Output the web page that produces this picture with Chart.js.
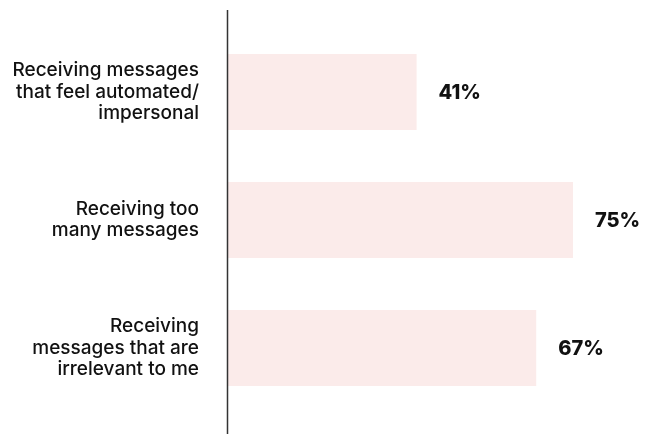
<!DOCTYPE html>
<html><head><meta charset="utf-8">
<script src="https://cdn.jsdelivr.net/npm/chart.js@4"></script>
<style>html,body{margin:0;padding:0;background:#fff}#wrap{width:647px;height:434px}</style>
</head><body><div id="wrap"><canvas id="c" width="647" height="434"></canvas></div>
<script>
const categories = [
  ["Receiving messages", "that feel automated/", "impersonal"],
  ["Receiving too", "many messages"],
  ["Receiving", "messages that are", "irrelevant to me"]
];
const values = [41, 75, 67];
const valueLabels = ["41%", "75%", "67%"];

const axisLine = {
  id: 'axisLine',
  afterDatasetsDraw(chart) {
    const ctx = chart.ctx, a = chart.chartArea;
    ctx.save();
    ctx.strokeStyle = '#333';
    ctx.lineWidth = 1.5;
    ctx.beginPath();
    ctx.moveTo(a.left - 0.5, 10);
    ctx.lineTo(a.left - 0.5, 434);
    ctx.stroke();
    ctx.restore();
  }
};
const valueLabelPlugin = {
  id: 'valueLabels',
  afterDatasetsDraw(chart) {
    const ctx = chart.ctx;
    const meta = chart.getDatasetMeta(0);
    ctx.save();
    ctx.font = '800 20px Inter, "Open Sans", sans-serif';
    ctx.fillStyle = '#111';
    ctx.textAlign = 'left';
    ctx.textBaseline = 'middle';
    meta.data.forEach((bar, i) => {
      ctx.fillText(valueLabels[i], bar.x + 22, bar.y + 1);
    });
    ctx.restore();
  }
};

new Chart(document.getElementById('c'), {
  type: 'bar',
  data: {
    labels: categories,
    datasets: [{
      data: values,
      backgroundColor: '#fbebea',
      borderWidth: 0,
      barPercentage: 1,
      categoryPercentage: 76/128
    }]
  },
  options: {
    indexAxis: 'y',
    responsive: false,
    animation: false,
    devicePixelRatio: 1,
    layout: { padding: { top: 28, bottom: 22, right: 5, left: 0 } },
    plugins: { legend: { display: false }, tooltip: { enabled: false } },
    scales: {
      x: { display: false, min: 0, max: 90 },
      y: {
        afterFit(s) { s.width = 228; s.paddingTop = 0; s.paddingBottom = 0; },
        grid: { display: false, drawTicks: false },
        border: { display: false },
        ticks: {
          padding: 29,
          color: '#111',
          font: { family: 'Inter, "Open Sans", sans-serif', size: 19, weight: 500, lineHeight: 1.13 }
        }
      }
    }
  },
  plugins: [axisLine, valueLabelPlugin]
});
</script>
</body></html>
